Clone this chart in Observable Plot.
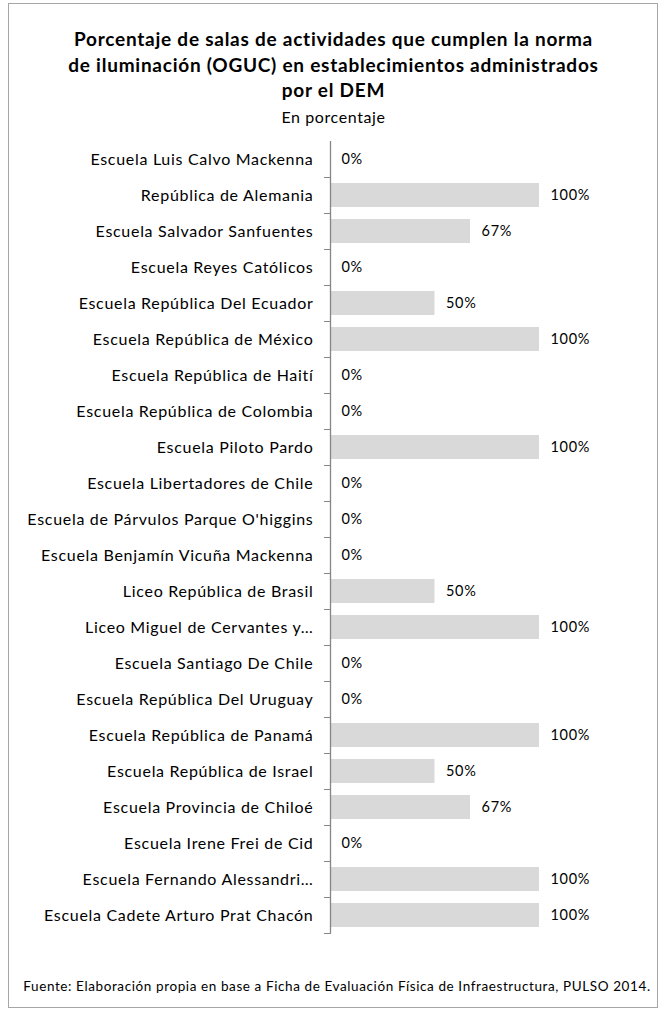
<!DOCTYPE html>
<html><head><meta charset="utf-8">
<script src="https://cdn.jsdelivr.net/npm/d3@7"></script>
<script src="https://cdn.jsdelivr.net/npm/@observablehq/plot@0.6"></script>
<style>
body{margin:0;background:#fff;font-family:Lato,"Open Sans",sans-serif;color:#000}
#frame{position:absolute;left:8px;top:3px;width:650px;height:1005px;border:1px solid #a6a6a6;box-sizing:border-box}
#title{position:absolute;left:0;width:667px;top:26px;text-align:center;font-weight:bold;font-size:19px;line-height:25.5px;letter-spacing:0.75px}
#sub{position:absolute;left:0;width:667px;top:107px;text-align:center;font-size:16px;letter-spacing:0.6px}
#chart{position:absolute;left:0;top:131px}
#foot{position:absolute;left:0;width:674px;top:978px;text-align:center;font-size:13.5px;letter-spacing:0.6px}
</style></head><body>
<div id="frame"></div>
<div id="title">Porcentaje de salas de actividades que cumplen la norma<br>de iluminación (OGUC) en establecimientos administrados<br>por el DEM</div>
<div id="sub">En porcentaje</div>
<div id="chart"></div>
<div id="foot">Fuente: Elaboración propia en base a Ficha de Evaluación Física de Infraestructura, PULSO 2014.</div>
<script>
const schools = ["Escuela Luis Calvo Mackenna","República de Alemania","Escuela Salvador Sanfuentes","Escuela Reyes Católicos","Escuela República Del Ecuador","Escuela República de México","Escuela República de Haití","Escuela República de Colombia","Escuela Piloto Pardo","Escuela Libertadores de Chile","Escuela de Párvulos Parque O'higgins","Escuela Benjamín Vicuña Mackenna","Liceo República de Brasil","Liceo Miguel de Cervantes y…","Escuela Santiago De Chile","Escuela República Del Uruguay","Escuela República de Panamá","Escuela República de Israel","Escuela Provincia de Chiloé","Escuela Irene Frei de Cid","Escuela Fernando Alessandri…","Escuela Cadete Arturo Prat Chacón"];
const values = [0,100,67,0,50,100,0,0,100,0,0,0,50,100,0,0,100,50,67,0,100,100];
const data = schools.map((s,i)=>({school:s, value:values[i]}));
const H = 812, mt = 10, mb = 10;
const step = (H-mt-mb)/schools.length;
const tickShape = {draw(context, l) { context.moveTo(0, 0); context.lineTo(0, -l); }};
const chart = Plot.plot({
  width: 667, height: H,
  marginLeft: 330, marginRight: 128, marginTop: mt, marginBottom: mb,
  style: {fontFamily: "Lato, 'Open Sans', sans-serif", fontSize: "16px", color: "#000", background: "transparent", letterSpacing: "0.7px"},
  x: {domain: [0, 100], axis: null},
  y: {domain: schools, paddingInner: 0.33, paddingOuter: 0.165, axis: null, label: null},
  marks: [
    Plot.barX(data, {y: "school", x: "value", fill: "#d9d9d9"}),
    Plot.axisY({anchor: "left", label: null, tickSize: 0, tickPadding: 17, fontSize: 16, fill: "#000"}),
    Plot.vector(schools, {y: d => d, x: 0, dy: step/2, length: 6, rotate: -90, anchor: "start", shape: tickShape, stroke: "#868686", strokeWidth: 1}),
    Plot.ruleX([0], {stroke: "#868686", strokeWidth: 1.3}),
    Plot.text(data, {y: "school", x: "value", text: d => d.value + "%", dx: 11, textAnchor: "start", fontSize: 14.5, fill: "#000"})
  ]
});
document.getElementById("chart").appendChild(chart);
</script>
</body></html>
